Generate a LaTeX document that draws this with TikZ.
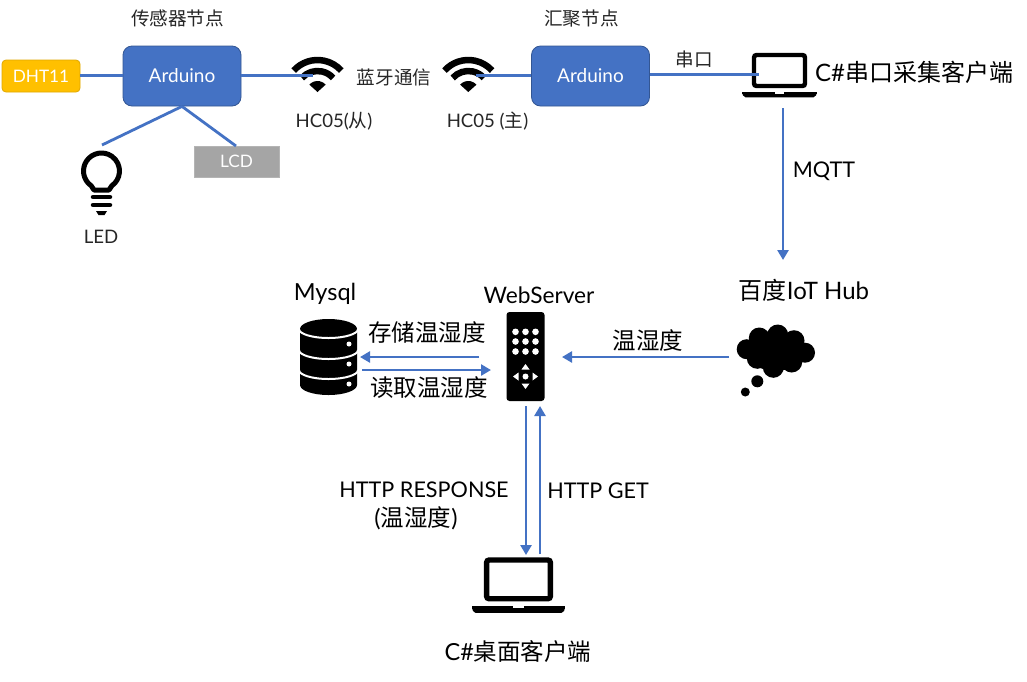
\documentclass[tikz,border=0pt]{standalone}
\usepackage{fontspec}
\setmainfont{Lato}
\newfontfamily\cjk{Noto Sans CJK SC}
\usetikzlibrary{arrows.meta}
\newcommand\zh[1]{{\cjk #1}}
\definecolor{linkblue}{HTML}{4472C4}
\definecolor{inktext}{HTML}{262626}
\definecolor{dhtfill}{HTML}{FFC000}
\definecolor{dhtedge}{HTML}{E0A800}
\definecolor{lcdfill}{HTML}{A5A5A5}
\definecolor{lcdedge}{HTML}{B4B4B4}
\tikzset{
  x=1pt,y=-1pt,
  link/.style={draw=linkblue,line width=2.8pt},
  flow/.style={link,-{Triangle[length=10pt,width=11pt]}},
  board/.style={draw=linkblue!75!black,line width=.8pt,fill=linkblue,rounded corners=9pt,minimum width=118pt,minimum height=60pt,inner sep=0pt,text=white,font=\fontsize{19}{22}\selectfont},
  part/.style={line width=.8pt,inner sep=0pt,text=white,font=\fontsize{17.2}{20}\selectfont},
  small/.style={inner sep=0pt,text=inktext,font=\fontsize{18.6}{22}\selectfont},
  big/.style={inner sep=0pt,text=black,font=\fontsize{23.5}{29}\selectfont,align=center},
  caps/.style={inner sep=0pt,text=black,font=\fontsize{21.6}{29}\selectfont,align=center},
  iconbox/.style={inner sep=0pt,minimum width=#1},
  wifi/.pic={
    \draw[line width=6.5pt] (138:32pt) arc[start angle=138,end angle=42,radius=32pt];
    \draw[line width=6.5pt] (138:21pt) arc[start angle=138,end angle=42,radius=21pt];
    \fill (0,0)--(138:11pt) arc[start angle=138,end angle=42,radius=11pt]--cycle;
  },
  bulb/.pic={
    \draw[line width=5pt,line join=round] (-125:18pt) arc[start angle=-125,end angle=-415,radius=18pt] -- (7.5,19) -- (-7.5,19) -- cycle;
    \draw[line width=4.5pt,line cap=round] (-8.5,26)--(8.5,26) (-8.5,34)--(8.5,34);
    \fill (-5.5,40)--(5.5,40)--(3,44)--(-3,44)--cycle;
  },
  cloud/.pic={
    \fill (-1,1) ellipse[x radius=30pt,y radius=18pt]
      (-30,-2.5) circle[radius=10pt] (-17.4,-13.7) circle[radius=10.5pt]
      (1,-16.7) circle[radius=10.5pt] (17.3,-11) circle[radius=10.5pt]
      (28.3,1) circle[radius=10pt] (15,10.3) circle[radius=10.5pt]
      (-3.4,15.6) circle[radius=10.5pt] (-19.4,6.6) circle[radius=10.5pt]
      (-19.4,29.6) circle[radius=6pt] (-31.4,40.3) circle[radius=4.5pt];
  },
  remote/.pic={
    \fill[rounded corners=3pt] (-19,-44.5) rectangle (19,44.5);
    \foreach \px in {-10,0,10}\foreach \py in {-24.7,-15,-5}
      \fill[white] (\px,\py) circle[radius=3.3pt];
    \fill[white] (0,20) circle[radius=3pt];
    \fill[white] (0,7.5)--(-4,13)--(4,13)--cycle
      (0,32.5)--(-4,27)--(4,27)--cycle
      (-12.5,20)--(-7,16)--(-7,24)--cycle
      (12.5,20)--(7,16)--(7,24)--cycle;
  },
  database/.pic={
    \fill (-28.5,10) -- (-28.5,66) arc[start angle=180,end angle=360,x radius=28.5pt,y radius=10pt]
       -- (28.5,10) arc[start angle=0,end angle=180,x radius=28.5pt,y radius=10pt] -- cycle;
    \foreach \py in {10,31,51}
      \draw[white,line width=2pt] (-29.5,\py) arc[start angle=180,end angle=360,x radius=29.5pt,y radius=9pt];
    \foreach \py in {25,45,65}
      \fill[white] (20.5,\py) circle[radius=2.5pt];
  },
  laptop/.pic={
    \draw[line width=\laptoplw,rounded corners=2.5pt] (-25.5,2)rectangle(25.5,33);
    \fill[rounded corners=2pt] (-37.5,39)--(37.5,39)--(36,44.3)--(-36,44.3)--cycle;
    \fill (-37.5,39) rectangle (37.5,41);
    \fill[white] (-4.5,38.5) rectangle (4.5,40.6);
  },
}
\newcommand\laptoplw{4.4pt}
\begin{document}
\begin{tikzpicture}
\useasboundingbox (0,0) rectangle (1027,681);
\fill[white] (0,0) rectangle (1027,681);

% icons
\pic at (317.5,92) {wifi};
\pic at (468.3,92) {wifi};
\pic at (101.5,171) {bulb};
\pic at (776.7,351.7) {cloud};
\pic at (525.5,356.5) {remote};
\pic at (328.5,319) {database};
\pic at (779.5,53) {laptop};
\renewcommand\laptoplw{5.4pt}
\pic[scale=1.25] at (518.5,557.5) {laptop};

% anchors for the icons
\node[iconbox=52pt,minimum height=36pt] (wifiA) at (317.5,74.5) {};
\node[iconbox=52pt,minimum height=36pt] (wifiB) at (468.3,74.5) {};
\node[iconbox=42pt,minimum height=66pt] (led) at (101.5,180) {};
\node[iconbox=76pt,minimum height=70pt] (cloudnode) at (767,357) {};
\node[iconbox=38pt,minimum height=89pt] (server) at (525.5,356.5) {};
\node[iconbox=57pt,minimum height=76pt] (db) at (328.5,357) {};
\node[iconbox=74pt,minimum height=44pt] (lapA) at (779.5,75) {};
\node[iconbox=93pt,minimum height=55pt] (lapB) at (518.5,585) {};

% boxes
\node[board] (ardA) at (182,76) {Arduino};
\node[board] (ardB) at (590.5,76) {Arduino};
\node[part,draw=dhtedge,fill=dhtfill,rounded corners=4pt,minimum width=78pt,minimum height=32pt] (dht) at (41,76) {DHT11};
\node[part,draw=lcdedge,fill=lcdfill,minimum width=85pt,minimum height=31pt] (lcd) at (236.5,161.5) {LCD};

% free ends of connectors
\coordinate (wifiAin) at (313,75.5);
\coordinate (wifiBin) at (476,75.5);
\coordinate (lapAin) at (758.5,74.5);
\coordinate (ledin) at (102,145);
\coordinate (lcdin) at (236,146);
\coordinate (lapAout) at (783,108);
\coordinate (hubin) at (783,260);
\coordinate (cloudout) at (729,357);
\coordinate (serverin) at (562,357);
\coordinate (svToDbS) at (479,357);
\coordinate (svToDbE) at (360,357);
\coordinate (dbToSvS) at (362,370);
\coordinate (dbToSvE) at (491,370);
\coordinate (svDownS) at (526,406);
\coordinate (svDownE) at (526,555);
\coordinate (svUpS) at (540,554);
\coordinate (svUpE) at (540,406);

% connectors
\draw[link] (dht.east |- 0,75.5) -- (ardA.west |- 0,75.5);
\draw[link] (ardA.east |- 0,75.5) -- (wifiAin);
\draw[link] (ardA.south) -- (ledin);
\draw[link] (ardA.south) -- (lcdin);
\draw[link] (wifiBin) -- (ardB.west |- 0,75.5);
\draw[link] (ardB.east |- 0,74.5) -- (lapAin);
\draw[flow] (lapAout) -- (hubin);
\draw[flow] (cloudout) -- (serverin);
\draw[flow] (svToDbS) -- (svToDbE);
\draw[flow] (dbToSvS) -- (dbToSvE);
\draw[flow] (svDownS) -- (svDownE);
\draw[flow] (svUpS) -- (svUpE);

% labels
\node[small] (t1) at (177.5,18.5) {\zh{传感器节点}};
\node[small] (t2) at (581.5,18.5) {\zh{汇聚节点}};
\node[small] (t3) at (394,77.5) {\zh{蓝牙通信}};
\node[small] (t4) at (334,121.5) {HC05(\zh{从})};
\node[small] (t5) at (487.5,121.5) {HC05 (\zh{主})};
\node[small] (t6) at (101,236.5) {LED};
\node[small] (t7) at (694,59.5) {\zh{串口}};
\node[big,anchor=west,font=\fontsize{24}{29}\selectfont] (t8) at (815,72) {C\#\zh{串口采集客户端}};
\node[caps] (t9) at (824,171) {MQTT};
\node[big,font=\fontsize{24}{29}\selectfont] (t10) at (804,290) {\zh{百度}IoT Hub};
\node[big] (t11) at (648,341) {\zh{温湿度}};
\node[big,font=\fontsize{22.7}{29}\selectfont] (t12) at (539,295) {WebServer};
\node[big] (t13) at (325,294) {Mysql};
\node[big] (t14) at (427,333) {\zh{存储温湿度}};
\node[big] (t15) at (429,388) {\zh{读取温湿度}};
\node[caps] (t16) at (424,489.5) {HTTP RESPONSE};
\node[big] (t17) at (416,518) {(\zh{温湿度})};
\node[caps] (t18) at (598,490.5) {HTTP GET};
\node[big] (t19) at (518,652) {C\#\zh{桌面客户端}};
\end{tikzpicture}
\end{document}
